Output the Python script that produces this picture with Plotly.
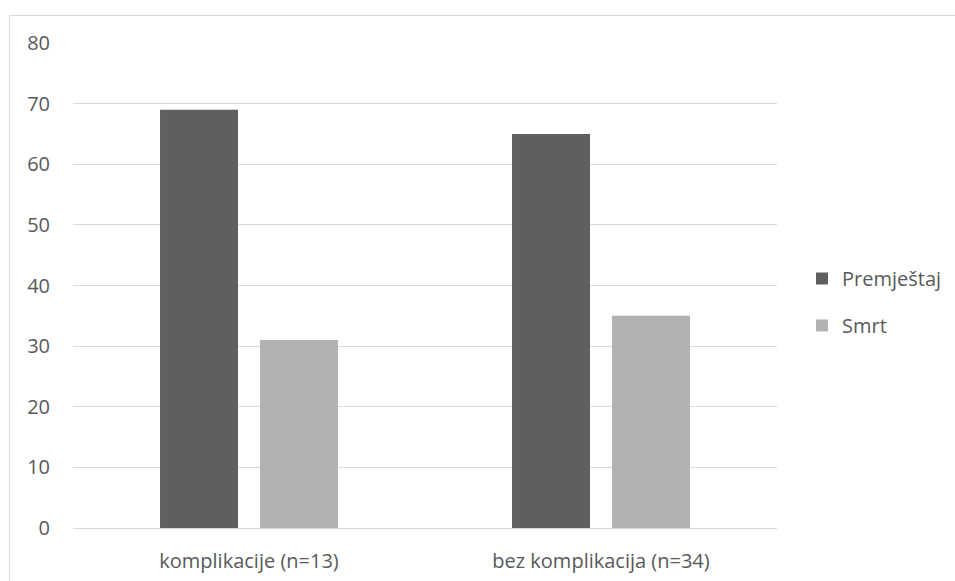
import plotly.graph_objects as go

categories = ["komplikacije (n=13)", "bez komplikacija (n=34)"]
premjestaj = [69, 65]
smrt = [31, 35]
y_ticks = [0, 10, 20, 30, 40, 50, 60, 70, 80]

W, H = 955, 581
ml, mr, mt, mb = 73, 178, 43, 53
pw, ph = W - ml - mr, H - mt - mb

fig = go.Figure()
fig.add_trace(go.Bar(name="Premještaj", x=categories, y=premjestaj,
                     marker=dict(color="#5f5f5f", line_width=0), legendgroup="a"))
fig.add_trace(go.Bar(name="Smrt", x=categories, y=smrt,
                     marker=dict(color="#b2b2b2", line_width=0), legendgroup="b"))

font = dict(family="Open Sans, Liberation Sans, sans-serif", size=20, color="#595959")

def px_x(p):
    return (p - ml) / pw

def px_y(p):
    return (H - mb - p) / ph

fig.add_shape(type="rect", xref="paper", yref="paper",
              x0=px_x(9.5), x1=px_x(965), y0=px_y(15.5), y1=px_y(600),
              line=dict(color="#d9d9d9", width=1), fillcolor="rgba(0,0,0,0)", layer="below")

fig.update_layout(
    width=W, height=H,
    margin=dict(l=ml, r=mr, t=mt, b=mb, pad=0, autoexpand=False),
    paper_bgcolor="white", plot_bgcolor="white",
    barmode="group", bargap=0.432, bargroupgap=0.22,
    font=font,
    showlegend=True,
    legend=dict(x=px_x(802), y=px_y(259), xanchor="left", yanchor="top",
                font=dict(size=20, color="#595959"),
                tracegroupgap=18, traceorder="grouped",
                bgcolor="rgba(0,0,0,0)", itemwidth=30),
    xaxis=dict(showgrid=False, showline=False, ticks="", tickfont=dict(size=20, color="#595959"),
               ticklabelstandoff=19, automargin=False),
    yaxis=dict(range=[0, 80], tickvals=y_ticks, showgrid=True, gridcolor="#d9d9d9",
               gridwidth=1, zeroline=True, zerolinecolor="#d9d9d9", zerolinewidth=1,
               showline=False, ticks="", tickfont=dict(size=20, color="#595959"),
               ticklabelstandoff=22, automargin=False),
)

fig.write_html("out.html", config={"displayModeBar": False},
               post_script="document.body.style.margin='0';")
